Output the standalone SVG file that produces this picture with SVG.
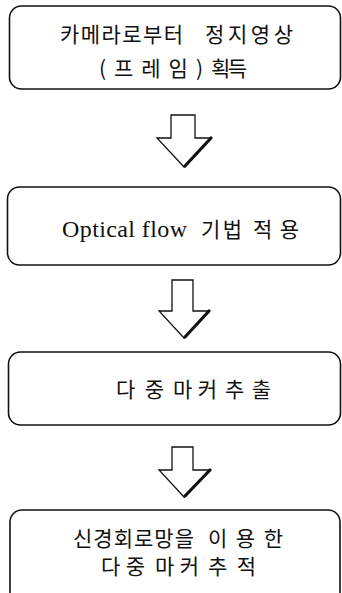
<svg xmlns="http://www.w3.org/2000/svg" width="342" height="593" viewBox="0 0 342 593">
<style>
.box{fill:#fff;stroke:#111;stroke-width:1.6}
.arr{fill:#fff;stroke:#111;stroke-width:1.3;stroke-linejoin:miter}
.sh{fill:none;stroke:#111;stroke-width:3.2;stroke-linecap:round}
.ko{font-family:"Noto Sans CJK KR","Noto Sans",sans-serif;font-size:21px;fill:#111}
.la{font-family:"Liberation Serif","Noto Sans CJK KR",serif;font-size:24px;fill:#111}
</style>
<rect width="342" height="593" fill="#fff"/>
<g id="connectors">
<g id="arrow1"><polygon class="arr" points="171,115 195,115 195,138 211,138 184,167 157,138 171,138"/><line class="sh" x1="211" y1="138" x2="185" y2="166"/></g>
<g id="arrow2"><polygon class="arr" points="172,280 193,280 193,311 209,311 184,338 159,311 172,311"/><line class="sh" x1="209" y1="311" x2="185" y2="337"/></g>
<g id="arrow3"><polygon class="arr" points="172,447 193,447 193,470 210,470 184,497 159,470 172,470"/><line class="sh" x1="210" y1="470" x2="185" y2="496"/></g>
</g>
<g id="node1">
<rect class="box" x="9.5" y="6" width="331" height="83" rx="12"/>
<text class="ko" y="42"><tspan x="60" textLength="123">카메라로부터</tspan><tspan x="205" textLength="88">정지영상</tspan></text>
<text class="ko" y="75.5"><tspan x="99" textLength="104">(프레임)</tspan><tspan x="211" textLength="36">획득</tspan></text>
</g>
<g id="node2">
<rect class="box" x="7.5" y="187" width="333" height="78" rx="12"/>
<text y="237"><tspan class="la" x="62" textLength="125">Optical flow</tspan><tspan class="ko" x="201" y="237" textLength="41">기법</tspan><tspan class="ko" x="253" y="237" textLength="46">적용</tspan></text>
</g>
<g id="node3">
<rect class="box" x="8.5" y="352" width="332" height="73" rx="12"/>
<text class="ko" y="397"><tspan x="116" textLength="48">다중</tspan><tspan x="173" textLength="44">마커</tspan><tspan x="225" textLength="46">추출</tspan></text>
</g>
<g id="node4">
<rect class="box" x="10" y="510" width="330" height="95" rx="12"/>
<text class="ko" y="545.5"><tspan x="73" textLength="121">신경회로망을</tspan><tspan x="208" textLength="75">이용한</tspan></text>
<text class="ko" y="573.5"><tspan x="101" textLength="44">다중</tspan><tspan x="155" textLength="44">마커</tspan><tspan x="208" textLength="48">추적</tspan></text>
</g>
</svg>
